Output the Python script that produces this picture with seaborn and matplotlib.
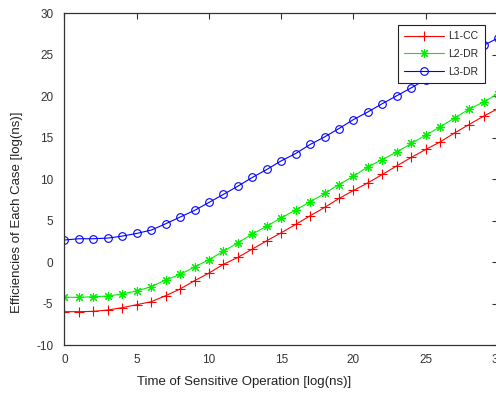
import matplotlib
matplotlib.use("Agg")
import matplotlib.pyplot as plt
import seaborn as sns
import numpy as np
import pandas as pd

x_vals = list(range(0, 31))
l1_cc = [-5.95, -5.95, -5.91, -5.75, -5.47, -5.11, -4.75, -4.03, -3.22, -2.22,
         -1.30, -0.25, 0.59, 1.59, 2.59, 3.55, 4.56, 5.59, 6.60, 7.68,
         8.64, 9.56, 10.57, 11.61, 12.62, 13.58, 14.49, 15.57, 16.58, 17.58, 18.50]
l2_dr = [-4.22, -4.22, -4.15, -4.07, -3.82, -3.46, -2.94, -2.14, -1.46, -0.58,
         0.32, 1.31, 2.35, 3.39, 4.35, 5.35, 6.28, 7.28, 8.28, 9.36,
         10.37, 11.49, 12.37, 13.29, 14.30, 15.30, 16.30, 17.38, 18.42, 19.30, 20.30]
l3_dr = [2.68, 2.83, 2.83, 2.91, 3.15, 3.47, 3.87, 4.63, 5.44, 6.24,
         7.20, 8.17, 9.16, 10.21, 11.17, 12.21, 13.09, 14.18, 15.09, 16.10,
         17.18, 18.10, 19.10, 20.05, 21.00, 22.00, 23.00, 24.05, 25.10, 26.10, 27.00]
series_names = ["L1-CC", "L2-DR", "L3-DR"]
x_ticks = [0, 5, 10, 15, 20, 25, 30]
y_ticks = [-10, -5, 0, 5, 10, 15, 20, 25, 30]

sns.set_style("white")
plt.rcParams["font.family"] = ["Liberation Sans", "DejaVu Sans"]
plt.rcParams["axes.unicode_minus"] = False

fig = plt.figure(figsize=(4.96, 3.96), dpi=100)
ax = fig.add_axes([0.130, 0.128, 0.874, 0.839])

styles = [
    dict(color="#ff0000", marker="+", markersize=6.5, mew=0.8),
    dict(color="#00ee00", marker=(8, 2, 0), markersize=6.5, mew=0.8),
    dict(color="#0000ff", marker="o", markersize=5.5, mew=0.8, mfc="none"),
]
for name, ys, st in zip(series_names, [l1_cc, l2_dr, l3_dr], styles):
    df = pd.DataFrame({"x": x_vals, "y": ys})
    sns.lineplot(data=df, x="x", y="y", ax=ax, label=name, linewidth=0.8,
                 color=st["color"], marker=st["marker"], markersize=st["markersize"],
                 markeredgewidth=st["mew"], markerfacecolor=st.get("mfc", st["color"]),
                 markeredgecolor=st["color"])

ax.set_xlim(0, 30)
ax.set_ylim(-10, 30)
ax.set_xticks(x_ticks)
ax.set_yticks(y_ticks)
ax.tick_params(direction="in", length=4, width=0.8, colors="#333333",
               labelsize=8.5, top=True, right=True)
ax.tick_params(axis="y", pad=8)
ax.tick_params(axis="x", pad=6.5)
for s in ax.spines.values():
    s.set_color("#333333")
    s.set_linewidth(0.9)

ax.set_xlabel("Time of Sensitive Operation [log(ns)]", fontsize=9.5, color="#222222")
ax.set_ylabel("Efficiencies of Each Case [log(ns)]", fontsize=9.5, color="#222222")
ax.xaxis.set_label_coords(0.414, -0.092)
ax.yaxis.set_label_coords(-0.096, 0.40)

leg = ax.legend(loc="upper right", bbox_to_anchor=(0.970, 0.964), borderaxespad=0,
                fontsize=7.5, frameon=True, fancybox=False, framealpha=1,
                edgecolor="#222222", handlelength=3.9, handletextpad=0.4,
                labelspacing=0.75, borderpad=0.6)
leg.get_frame().set_linewidth(0.8)

fig.savefig("out.png", dpi=100)
